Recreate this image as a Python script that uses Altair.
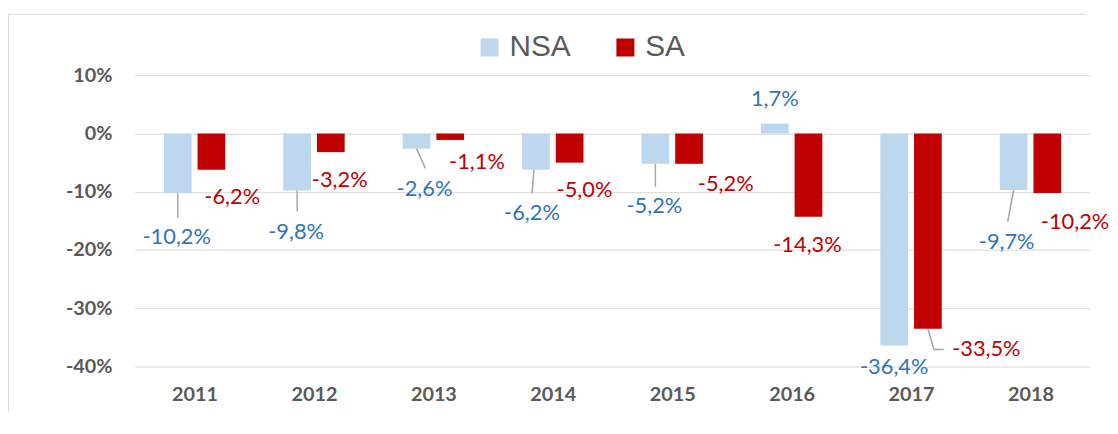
import altair as alt
import pandas as pd

# ---------------- data ----------------
years = [2011, 2012, 2013, 2014, 2015, 2016, 2017, 2018]
nsa = [-10.2, -9.8, -2.6, -6.2, -5.2, 1.7, -36.4, -9.7]
sa = [-6.2, -3.2, -1.1, -5.0, -5.2, -14.3, -33.5, -10.2]
series_names = ["NSA", "SA"]
y_ticks = [10, 0, -10, -20, -30, -40]

# ---------------- layout / style ----------------
W, H = 964, 294
Y_MIN, Y_MAX = -40, 10
X_MIN, X_MAX = years[0] - 0.5, years[-1] + 0.5
PX_X = W / (X_MAX - X_MIN)
PX_Y = H / (Y_MAX - Y_MIN)
BAR_INNER, BAR_OUTER = 0.025, 0.257   # half-gap and outer edge, in category units

bar_colors = ["#BDD7EE", "#C00000"]
label_colors = ["#2E75B6", "#C00000"]
GRID = "#D9D9D9"
AXIS_TXT = "#595959"
LEADER = "#A6A6A6"

# label placement nudges (pixels: right, down) from the bar end centre
nsa_nudge = [(-1, 45), (-1, 42), (8, 41), (-4, 43.5), (-1, 43), (0, -25), (0, 22), (-7, 52)]
sa_nudge = [(21, 27.5), (9, 28), (27, 22.5), (15, 27.6), (37, 20.4), (-1, 28), (59, 21), (28, 29)]
# leader-line segments (pixels from bar end centre)
leaders = [
    ("NSA", 2011, [(0, 0), (0, 25)]),
    ("NSA", 2012, [(0, 0), (0, 21)]),
    ("NSA", 2013, [(0, 0), (9, 20)]),
    ("NSA", 2014, [(-2, 0), (-4, 24)]),
    ("NSA", 2015, [(0, 0), (0, 23)]),
    ("SA", 2017, [(0, 0), (6, 21), (16, 21)]),
    ("NSA", 2018, [(0, 0), (-6, 32)]),
]

rows = []
centres = {}
for s, vals, nudges, sign in [("NSA", nsa, nsa_nudge, -1), ("SA", sa, sa_nudge, 1)]:
    for yr, v, (dx, dy) in zip(years, vals, nudges):
        a = yr + sign * BAR_INNER
        b = yr + sign * BAR_OUTER
        cx = (a + b) / 2
        centres[(s, yr)] = (cx, v)
        rows.append({
            "year": yr, "series": s, "value": v, "base": 0,
            "x0": min(a, b), "x1": max(a, b),
            "lx": cx + dx / PX_X, "ly": v - dy / PX_Y,
            "label": f"{v:.1f}".replace(".", ",") + "%",
        })
df = pd.DataFrame(rows)

segs = []
for s, yr, pts in leaders:
    cx, cy = centres[(s, yr)]
    for (p0, p1) in zip(pts[:-1], pts[1:]):
        segs.append({
            "x": cx + p0[0] / PX_X, "y": cy - p0[1] / PX_Y,
            "x2": cx + p1[0] / PX_X, "y2": cy - p1[1] / PX_Y,
        })
seg_df = pd.DataFrame(segs)

xscale = alt.Scale(domain=[X_MIN, X_MAX], nice=False, zero=False)
yscale = alt.Scale(domain=[Y_MIN, Y_MAX], nice=False)

x_axis = alt.Axis(values=years, format="d", grid=False, ticks=False, domain=False,
                  labelFont="Lato", labelFontWeight="bold", labelFontSize=20,
                  labelColor=AXIS_TXT, labelPadding=18, title=None)
y_axis = alt.Axis(values=y_ticks, labelExpr="datum.value + '%'", grid=True,
                  gridColor=GRID, gridWidth=1, ticks=False, domain=False,
                  labelFont="Lato", labelFontWeight="bold", labelFontSize=20,
                  labelColor=AXIS_TXT, labelPadding=23, title=None)

bars = alt.Chart(df).mark_bar().encode(
    x=alt.X("x0:Q", scale=xscale, axis=x_axis),
    x2="x1:Q",
    y=alt.Y("value:Q", scale=yscale, axis=y_axis),
    y2="base:Q",
    color=alt.Color("series:N",
                    scale=alt.Scale(domain=series_names, range=bar_colors),
                    legend=alt.Legend(orient="none", legendX=343, legendY=-43,
                                      direction="horizontal", title=None,
                                      symbolType="square", symbolSize=330,
                                      symbolStrokeWidth=0,
                                      labelFont="Liberation Sans", labelFontSize=30,
                                      labelColor=AXIS_TXT, labelOffset=5,
                                      columnPadding=40)),
)

lead = alt.Chart(seg_df).mark_rule(color=LEADER, strokeWidth=1.5).encode(
    x=alt.X("x:Q", scale=xscale), x2="x2:Q",
    y=alt.Y("y:Q", scale=yscale), y2="y2:Q",
)

texts = []
for s, c in zip(series_names, label_colors):
    texts.append(
        alt.Chart(df).transform_filter(alt.datum.series == s)
        .mark_text(font="Lato", fontSize=22, color=c, baseline="middle", align="center")
        .encode(x=alt.X("lx:Q", scale=xscale), y=alt.Y("ly:Q", scale=yscale), text="label:N")
    )

one = alt.Data(values=[{"k": 1}])
frame_top = alt.Chart(one).mark_rule(color=GRID, strokeWidth=1).encode(
    x=alt.value(-127.5), x2=alt.value(960), y=alt.value(-61.5))
frame_left = alt.Chart(one).mark_rule(color=GRID, strokeWidth=1).encode(
    x=alt.value(-127.5), y=alt.value(-61.5), y2=alt.value(340))

chart = alt.layer(frame_top, frame_left, bars, lead, *texts).properties(
    width=W, height=H,
    padding={"left": 0, "top": 4, "right": 0, "bottom": 0},
).configure_view(stroke=None)

chart.save("out.html", embed_options={"renderer": "svg", "actions": False})
